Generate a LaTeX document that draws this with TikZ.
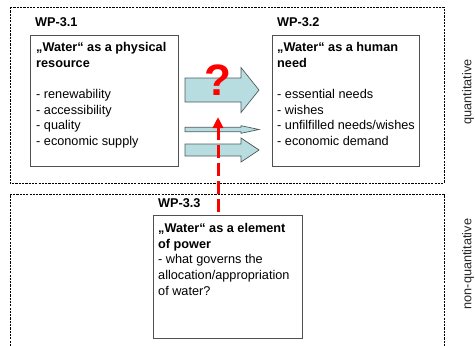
\documentclass[tikz,border=0pt]{standalone}
\usepackage{fontspec}
\setmainfont{Liberation Sans}
\usetikzlibrary{arrows.meta}
\definecolor{arrowfill}{HTML}{B7DDE0}
\definecolor{arrowline}{HTML}{4E5A5C}
\definecolor{boxline}{HTML}{505050}
\newcommand{\blockarrow}[4]{% yc, shaft half, head half, name
  \draw[blockarr] (185,{#1-#2}) -- (241,{#1-#2}) -- (241,{#1-#3}) -- (259,#1)
     -- (241,{#1+#3}) -- (241,{#1+#2}) -- (185,{#1+#2}) -- cycle;
  \coordinate (#4) at (222,#1);}
\begin{document}
\begin{tikzpicture}[x=1pt,y=-1pt,
  frame/.style={draw=black,line width=0.9pt,dash pattern=on 2.2pt off 1.1pt},
  wpbox/.style={draw=boxline,line width=0.9pt,fill=white,inner sep=0pt,anchor=north west},
  txt/.style={inner sep=0pt,anchor=north west,align=left,font=\fontsize{12.7}{15.6}\selectfont},
  wp/.style={inner sep=0pt,anchor=west,font=\fontsize{12.7}{15.6}\selectfont\bfseries},
  side/.style={inner sep=0pt,rotate=90,text=black!85,font=\fontsize{12.7}{15.6}\selectfont},
  blockarr/.style={draw=arrowline,line width=0.7pt,fill=arrowfill},
  reddash/.style={draw=red,line width=3pt,dash pattern=on 13pt off 5pt,
    -{Triangle[length=11pt,width=10pt]}}]
\useasboundingbox (0,0) rectangle (475,346);
% frames
\draw[frame] (10,7) rectangle (444,183);
\draw[frame] (10,346) -- (10,194) -- (444,194) -- (444,346);
% labels
\node[wp] (wp1) at (35,22) {WP-3.1};
\node[wp] (wp2) at (277,22) {WP-3.2};
\node[wp] (wp3) at (158,203) {WP-3.3};
\node[side] (q1) at (468,92) {quantitative};
\node[side] (q2) at (468,264) {non-quantitative};
% boxes
\node[wpbox,minimum width=148pt,minimum height=131pt] (b1) at (30,35) {};
\node[wpbox,minimum width=147pt,minimum height=131pt] (b2) at (272,35) {};
\node[wpbox,minimum width=149pt,minimum height=123pt] (b3) at (153,215) {};
\node[txt] (t1) at (36,42.3) {\textbf{„Water“ as a physical}\\\textbf{resource}\\[15.6pt]- renewability\\- accessibility\\- quality\\- economic supply};
\node[txt] (t2) at (277,42.3) {\textbf{„Water“ as a human}\\\textbf{need}\\[15.6pt]- essential needs\\- wishes\\- unfilfilled needs/wishes\\- economic demand};
\node[txt] (t3) at (158,223.3) {\textbf{„Water“ as a element}\\\textbf{of power}\\- what governs the\\allocation/appropriation\\of water?};
% block arrows
\blockarrow{90}{12}{22.5}{a1}
\blockarrow{129.5}{2.2}{3.8}{a2}
\blockarrow{150}{6}{12}{a3}
% question mark
\node[inner sep=0pt,text=red,font=\fontsize{44}{44}\selectfont\bfseries] (qm) at (218,80) {?};
% red dashed arrow
\coordinate (rs) at (218,212);
\coordinate (re) at (218,117);
\draw[reddash] (rs) -- (re);
\end{tikzpicture}
\end{document}
